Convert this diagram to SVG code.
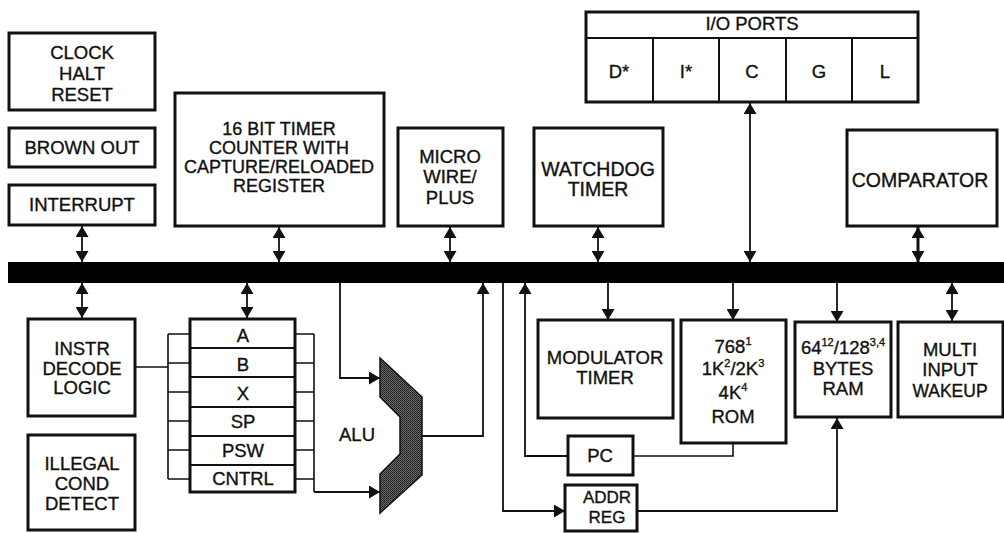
<svg xmlns="http://www.w3.org/2000/svg" width="1004" height="533" viewBox="0 0 1004 533">
<style>
.box{fill:#fff;stroke:#111;stroke-width:3}
.cell{fill:none;stroke:#111;stroke-width:2}
.ln{fill:none;stroke:#111;stroke-width:1.6}
.arr{fill:none;stroke:#111;stroke-width:1.8;marker-end:url(#ah)}
.dbl{fill:none;stroke:#111;stroke-width:1.8;marker-start:url(#ah);marker-end:url(#ah)}
text{font-family:"Liberation Sans",Arial,sans-serif;font-size:18.5px;fill:#111;stroke:#111;stroke-width:0.35;text-anchor:middle}
.sup{font-size:11px}
.big{font-size:19.5px}
.t18{font-size:18px}
.t17{font-size:17px}
</style>
<defs>
<marker id="ah" markerUnits="userSpaceOnUse" markerWidth="11" markerHeight="13" refX="11" refY="6.5" orient="auto-start-reverse">
<path d="M0,0 L11,6.5 L0,13 z" fill="#111"/>
</marker>
<pattern id="stip" width="2" height="2" patternUnits="userSpaceOnUse">
<rect width="2" height="2" fill="#6a6a6a"/><rect width="1" height="1" fill="#1a1a1a"/><rect x="1" y="1" width="1" height="1" fill="#2a2a2a"/>
</pattern>
</defs>
<rect x="8" y="262" width="996" height="21" fill="#000"/>
<g id="clock"><rect class="box" x="9" y="33" width="146" height="77"/><text x="82" y="59">CLOCK</text><text x="82" y="80">HALT</text><text x="82" y="101">RESET</text></g>
<g id="brownout"><rect class="box" x="9" y="128" width="146" height="39"/><text x="82" y="154">BROWN OUT</text></g>
<g id="interrupt"><rect class="box" x="9" y="185" width="146" height="40"/><text x="82" y="211">INTERRUPT</text></g>
<g id="timer16"><rect class="box" x="175" y="93" width="209" height="133"/><text class="t18" x="279" y="135">16 BIT TIMER</text><text class="t18" x="279" y="154">COUNTER WITH</text><text class="t18" x="279" y="173">CAPTURE/RELOADED</text><text class="t18" x="279" y="192">REGISTER</text></g>
<g id="microwire"><rect class="box" x="398" y="128" width="105" height="98"/><text x="450" y="163">MICRO</text><text x="450" y="183">WIRE/</text><text x="450" y="204">PLUS</text></g>
<g id="watchdog"><rect class="box" x="534" y="128" width="129" height="98"/><text class="big" x="598" y="176">WATCHDOG</text><text class="big" x="598" y="196">TIMER</text></g>
<g id="ioports"><rect class="box" x="586" y="12" width="332" height="90"/><line class="cell" x1="586" y1="38" x2="918" y2="38"/><line class="cell" x1="653" y1="38" x2="653" y2="102"/><line class="cell" x1="719" y1="38" x2="719" y2="102"/><line class="cell" x1="786" y1="38" x2="786" y2="102"/><line class="cell" x1="852" y1="38" x2="852" y2="102"/><text x="752" y="30">I/O PORTS</text><text x="619" y="78">D*</text><text x="686" y="78">I*</text><text x="752" y="78">C</text><text x="819" y="78">G</text><text x="885" y="78">L</text></g>
<g id="comparator"><rect class="box" x="847" y="130" width="150" height="96"/><text class="big" x="920" y="187">COMPARATOR</text></g>
<g id="instr"><rect class="box" x="28" y="319" width="107" height="97"/><text x="82" y="355">INSTR</text><text x="82" y="375">DECODE</text><text x="82" y="394">LOGIC</text></g>
<g id="illegal"><rect class="box" x="28" y="435" width="107" height="95"/><text x="82" y="470">ILLEGAL</text><text x="82" y="490">COND</text><text x="82" y="510">DETECT</text></g>
<g id="registers"><rect class="box" x="190" y="319" width="105" height="173"/><line class="cell" x1="190" y1="348" x2="295" y2="348"/><line class="cell" x1="190" y1="377" x2="295" y2="377"/><line class="cell" x1="190" y1="407" x2="295" y2="407"/><line class="cell" x1="190" y1="436" x2="295" y2="436"/><line class="cell" x1="190" y1="465" x2="295" y2="465"/><text x="243" y="342">A</text><text x="243" y="371">B</text><text x="243" y="400">X</text><text x="243" y="428">SP</text><text x="243" y="457">PSW</text><text x="243" y="485">CNTRL</text></g>
<g id="alu"><polygon points="380,358 422,397 422,475 380,513 380,474 400,454 400,417 380,397" fill="url(#stip)" stroke="#111" stroke-width="1.5"/><text x="357" y="441">ALU</text></g>
<g id="modulator"><rect class="box" x="538" y="320" width="135" height="98"/><text x="605" y="364">MODULATOR</text><text x="605" y="384">TIMER</text></g>
<g id="rom"><rect class="box" x="681" y="320" width="105" height="123"/><text x="733" y="353">768<tspan class="sup" dy="-8">1</tspan></text><text x="733" y="375">1K<tspan class="sup" dy="-8">2</tspan><tspan dy="8">/2K</tspan><tspan class="sup" dy="-8">3</tspan></text><text x="733" y="399">4K<tspan class="sup" dy="-8">4</tspan></text><text x="733" y="423">ROM</text></g>
<g id="ram"><rect class="box" x="795" y="322" width="96" height="95"/><text x="843" y="354">64<tspan class="sup" dy="-8">12</tspan><tspan dy="8">/128</tspan><tspan class="sup" dy="-8">3,4</tspan></text><text x="843" y="375">BYTES</text><text x="843" y="395">RAM</text></g>
<g id="wakeup"><rect class="box" x="898" y="322" width="105" height="95"/><text x="950" y="356">MULTI</text><text x="950" y="376">INPUT</text><text x="950" y="397" style="font-size:17.5px">WAKEUP</text></g>
<g id="pc"><rect class="box" x="568" y="436" width="65" height="39"/><text x="600" y="462">PC</text></g>
<g id="addrreg"><rect class="box" x="565" y="485" width="72" height="46"/><text class="t17" x="607" y="503">ADDR</text><text class="t17" x="607" y="523">REG</text></g>
<g id="connectors">
<line class="dbl" x1="82" y1="226" x2="82" y2="262"/>
<line class="dbl" x1="279" y1="227" x2="279" y2="262"/>
<line class="dbl" x1="450" y1="227" x2="450" y2="262"/>
<line class="dbl" x1="598" y1="227" x2="598" y2="262"/>
<line class="dbl" x1="750" y1="103" x2="750" y2="262"/>
<line class="dbl" x1="918" y1="227" x2="918" y2="262" style="stroke-width:3"/>
<line class="dbl" x1="82" y1="283" x2="82" y2="318"/>
<line class="dbl" x1="247" y1="283" x2="247" y2="318"/>
<path class="ln" d="M135,367 H168 M168,334 V479 M168,334 H190 M168,363 H190 M168,392 H190 M168,421 H190 M168,450 H190 M168,479 H190"/>
<path class="ln" d="M295,334 H314 M295,363 H314 M295,392 H314 M295,421 H314 M295,450 H314 M295,479 H314 M314,334 V492"/>
<path class="arr" d="M314,492 H380"/>
<path class="arr" d="M340,283 V378 H380"/>
<path class="arr" d="M422,436 H483 V283"/>
<path class="arr" d="M503,283 V511 H565"/>
<path class="arr" d="M568,456 H525 V283"/>
<path class="ln" d="M633,456 H733 V443"/>
<path class="arr" d="M608,283 V320"/>
<path class="arr" d="M733,283 V320"/>
<path class="arr" d="M837,283 V322"/>
<line class="dbl" x1="952" y1="283" x2="952" y2="321"/>
<path class="arr" d="M637,511 H837 V418"/>
</g>
</svg>
